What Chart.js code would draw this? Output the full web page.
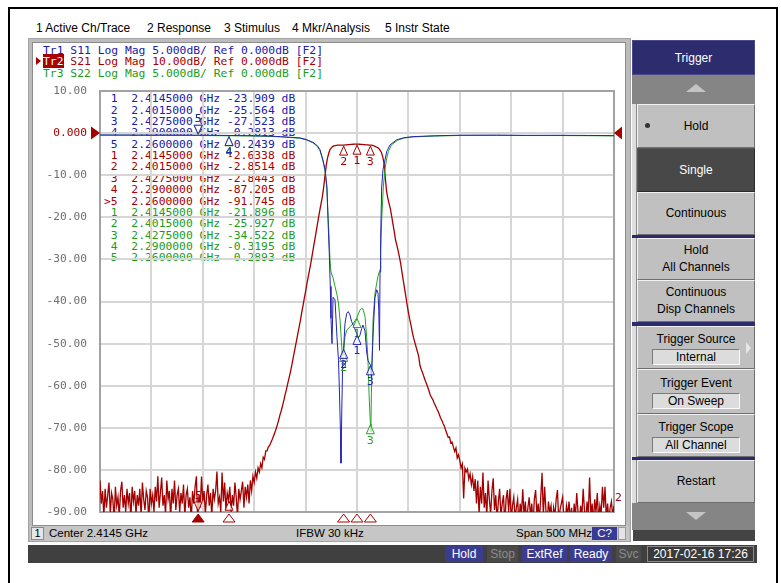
<!DOCTYPE html>
<html><head><meta charset="utf-8">
<script src="https://cdn.jsdelivr.net/npm/chart.js@4.4.0/dist/chart.umd.min.js"></script>
<style>
html,body{margin:0;padding:0;background:#fff;width:781px;height:583px;overflow:hidden;position:relative;font-family:"Liberation Sans",Arial,sans-serif;}
.a{position:absolute;box-sizing:border-box;}
.menu{top:21px;font-size:12px;line-height:14px;color:#000;white-space:nowrap;}
.mono{font-family:"DejaVu Sans Mono",monospace;font-size:11.35px;line-height:11.5px;white-space:pre;}
.btn{position:absolute;box-sizing:border-box;left:637px;width:118px;background:#c0c0c0;border-top:1px solid #f2f2f2;border-left:1px solid #f2f2f2;border-right:1px solid #6e6e6e;border-bottom:1px solid #6e6e6e;display:flex;flex-direction:column;align-items:center;justify-content:center;font-size:12px;line-height:17px;color:#000;text-align:center;}
.val{box-sizing:border-box;width:88px;height:16px;background:#dcdcdc;border-top:1px solid #7a7a7a;border-left:1px solid #7a7a7a;border-right:1px solid #fafafa;border-bottom:1px solid #fafafa;line-height:14px;margin-top:1px;}
.sep{position:absolute;left:632px;width:123px;background:#2a2a6c;}
.st{position:absolute;top:546px;height:16px;line-height:16px;font-size:12px;text-align:center;box-sizing:border-box;}
.info{position:absolute;top:526px;height:15px;line-height:15px;font-size:11.5px;color:#000;white-space:nowrap;}
#c{position:absolute;left:0;top:0;}
</style></head><body>

<!-- outer black frame -->
<div class="a" style="left:8px;top:7px;width:770px;height:580px;border-left:2px solid #000;border-top:2px solid #000;border-right:2px solid #000;"></div>

<!-- menu bar -->
<div class="a menu" style="left:36px">1 Active Ch/Trace</div>
<div class="a menu" style="left:147px">2 Response</div>
<div class="a menu" style="left:224px">3 Stimulus</div>
<div class="a menu" style="left:292px">4 Mkr/Analysis</div>
<div class="a menu" style="left:385px">5 Instr State</div>

<!-- channel window frame -->
<div class="a" style="left:28px;top:38px;width:603px;height:504px;background:#bcbcbc;border:1px solid #a4a4a4;"></div>
<div class="a" style="left:32px;top:42px;width:594px;height:484px;background:#fff;border:1px solid #8c8c8c;"></div>

<!-- trace header -->
<div class="a mono" style="left:43px;top:44.5px;color:#2020aa">Tr1 S11 Log Mag 5.000dB/ Ref 0.000dB [F2]</div>
<div class="a mono" style="left:43px;top:56px;color:#a80000"><span style="background:#a80000;color:#fff">Tr2</span> S21 Log Mag 10.00dB/ Ref 0.000dB [F2]</div>
<div class="a mono" style="left:43px;top:67.5px;color:#1c9c1c">Tr3 S22 Log Mag 5.000dB/ Ref 0.000dB [F2]</div>
<div class="a" style="left:36px;top:57px;width:0;height:0;border-top:4px solid transparent;border-bottom:4px solid transparent;border-left:5px solid #a80000;"></div>

<!-- marker table (filled by script) -->
<div id="mtable" class="a" style="left:104px;top:93.3px;"></div>

<!-- trace end label -->
<div class="a mono" style="left:615px;top:492px;color:#a80000">2</div>

<!-- info bar -->
<div class="a" style="left:30px;top:526px;width:599px;height:15px;background:#c6c6c6;"></div>
<div class="a" style="left:31px;top:527px;width:13px;height:13px;background:#e6e6e6;border:1px solid #8a8a8a;font-size:11px;line-height:11px;text-align:center;">1</div>
<div class="info" style="left:49px">Center 2.4145 GHz</div>
<div class="info" style="left:296px">IFBW 30 kHz</div>
<div class="info" style="left:516px">Span 500 MHz</div>
<div class="a" style="left:592px;top:527px;width:25px;height:13px;background:#3a3a96;color:#fff;font-size:11.5px;line-height:13px;text-align:center;">C?</div>
<div class="a" style="left:618px;top:527px;width:8px;height:13px;background:#e4e4e4;border:1px solid #9a9a9a;"></div>

<!-- status bar -->
<div class="a" style="left:28px;top:545px;width:729px;height:18px;background:#404040;"></div>
<div class="st" style="left:445px;width:38px;background:#3c3c8e;color:#fff">Hold</div>
<div class="st" style="left:487px;width:31px;background:#4a4a4a;color:#8c8c8c">Stop</div>
<div class="st" style="left:522px;width:45px;background:#3c3c8e;color:#fff">ExtRef</div>
<div class="st" style="left:570px;width:42px;background:#3c3c8e;color:#fff">Ready</div>
<div class="st" style="left:616px;width:25px;background:#4a4a4a;color:#8c8c8c">Svc</div>
<div class="st" style="left:647px;width:107px;background:#3a3a3a;color:#fff;border:1px solid #8a8a8a;line-height:14px">2017-02-16 17:26</div>

<!-- right softkey panel -->
<div class="a" style="left:632px;top:40px;width:123px;height:35px;background:#2c2c6e;color:#fff;font-size:12px;line-height:35px;text-align:center;border:1px solid #4a4a8a;">Trigger</div>
<div class="a" style="left:632px;top:75px;width:123px;height:29px;background:#858585;"></div>
<div class="a" style="left:686px;top:84px;width:0;height:0;border-left:10px solid transparent;border-right:10px solid transparent;border-bottom:8px solid #c4c4c4;"></div>
<div class="a" style="left:632px;top:104px;width:5px;height:426px;background:#dedede;border-right:1px solid #8a8a8a;"></div>

<div class="btn" style="top:104px;height:44px;">Hold</div>
<div class="a" style="left:645px;top:123px;width:5px;height:5px;border-radius:50%;background:#333;"></div>
<div class="btn" style="top:148px;height:44px;background:#484848;color:#fff;border-color:#5a5a5a #2a2a2a #2a2a2a #5a5a5a;">Single</div>
<div class="btn" style="top:192px;height:43px;">Continuous</div>
<div class="sep" style="top:235px;height:3px;"></div>
<div class="btn" style="top:238px;height:42px;"><div>Hold</div><div>All Channels</div></div>
<div class="btn" style="top:280px;height:42px;"><div>Continuous</div><div>Disp Channels</div></div>
<div class="sep" style="top:322px;height:4px;"></div>
<div class="btn" style="top:326px;height:43px;"><div>Trigger Source</div><div class="val">Internal</div></div>
<div class="a" style="left:746px;top:342px;width:0;height:0;border-top:6px solid transparent;border-bottom:6px solid transparent;border-left:5px solid #e6e6e6;"></div>
<div class="btn" style="top:369px;height:45px;"><div>Trigger Event</div><div class="val">On Sweep</div></div>
<div class="btn" style="top:414px;height:43px;"><div>Trigger Scope</div><div class="val">All Channel</div></div>
<div class="sep" style="top:457px;height:3px;"></div>
<div class="btn" style="top:460px;height:43px;">Restart</div>
<div class="a" style="left:632px;top:503px;width:123px;height:27px;background:#858585;"></div>
<div class="a" style="left:686px;top:512px;width:0;height:0;border-left:10px solid transparent;border-right:10px solid transparent;border-top:8px solid #c4c4c4;"></div>
<div class="a" style="left:633px;top:530px;width:122px;height:11px;background:#444;"></div>

<canvas id="c" width="781" height="583"></canvas>

<script>
// ---------------- data ----------------
const sweepStartGHz = 2.1645;
const sweepStopGHz = 2.6645;

// S21 (Tr2), 401 sweep points, dB
const s21LowStop = [
-82.5,-88,-85,-91,-84.5,-89,-86,-83,-90.5,-85.5,
-87,-92,-84,-88.5,-86.5,-91,-85,-82.8,-89,-86,
-90,-84.5,-88,-85.5,-92,-84,-87.5,-85,-90.5,-86,
-88.5,-84.5,-91,-83,-87,-89.5,-85,-86.5,-92,-84.5,
-88,-86,-90,-84,-87.5,-81.5,-89,-85.5,-81.8,-88.5,
-86,-90.5,-82.5,-87,-85,-91.5,-84.5,-88,-82.5,-89.5,
-86,-84.5,-90,-85.5,-88,-83.5,-91,-86,-84.5,-89,
-86.5,-92,-85,-88,-84,-81.5,-91.745,-86,-89,-81.6,
-87.5,-85,-90.5,-86,-83.5,-88.5,-85.5,-91,-84.5,-87,
-85,-80.4,-88,-86.5,-90,-80.6,-87.5,-83,-89.5,-85.5,
-87.205,-84,-90,-86,-88.5,-83,-86.5,-91,-84.5,-87,
-85,-82.8,-89,-84,-86.5,-83.5,-88];
const s21Band = [
-82.5,-85,-81.5,-83,-80.5,-82,-79.5,-80.5,-78.5,-79.5,
-77,-77.5,-75.5,-75.5,-74.5,-74.2,-73.5,-72.8,-72,-71.2,
-70.3,-69.3,-68.2,-67,-66,-64.8,-63.6,-62.2,-61,-59.6,
-58.3,-57,-55.5,-54,-52.3,-50.8,-49.2,-47.6,-46,-44.4,
-42.6,-41,-39.2,-37.6,-35.8,-34.2,-32.6,-31,-29.2,-27.4,
-25.6,-23.8,-22,-20.2,-18.4,-16.8,-15.2,-13,-10.4,-7.8,
-6,-4.8,-3.9,-3.5,-3.2,-3.05,-2.95,-2.9,-2.85,-2.85,
-2.86,-2.86,-2.85,-2.85,-2.82,-2.79,-2.75,-2.72,-2.69,-2.67,
-2.65,-2.64,-2.63,-2.63,-2.64,-2.65,-2.67,-2.7,-2.73,-2.76,
-2.79,-2.81,-2.83,-2.84,-2.86,-2.9,-3,-3.15,-3.3,-3.45,
-3.65,-4.1,-4.6,-5.6,-7.1,-10.5,-13.8,-15.5,-16.8,-18,
-19.8,-21.6,-23.4,-25.4,-26.6,-27.9,-29.4,-31,-33,-35,
-36.9,-38.8,-40.8,-42.6,-44.2,-45.6,-47.2,-48.6,-49.7,-50.8,
-51.9,-53,-55.2,-56.1,-56.9,-57.8,-58.7,-59.5,-60.3,-61.2,
-62.2,-62.8,-63.3,-64.1,-64.7,-65.4,-66,-66.8,-67.6,-68.2,
-69,-69.6,-70.6,-71.4,-72.3,-72.2,-73.6,-73.4,-74.6,-75.6,
-74.8,-77.2,-76.4,-77.8,-79.5,-78.6,-86.8,-79.6,-80.5,-79.8,
-82.2,-80.9,-83.5,-81.6,-85,-82.2,-88,-82.5];
const s21HighStop = [
-90.5,-84,-88,-80.6,-89,-85.5,-91,-82.5,-87,-90.5,
-85,-82,-89.5,-86,-92,-87.5,-84.5,-91,-88,-86,
-93,-87,-84.8,-90,-84.5,-92,-88.5,-86.5,-91.5,-89,
-87,-93,-88,-90.5,-84.6,-91,-87.5,-92.5,-89,-86.5,
-91,-88,-93,-87,-84.8,-90.5,-88,-92,-86.5,-80.7,
-91,-84,-89.5,-92.5,-87.5,-90,-88.5,-93.5,-89,-91,
-87,-84.8,-92,-89.5,-88,-86.5,-91.5,-93,-88.5,-90.5,
-87.5,-92,-89,-94,-88,-91,-85.5,-90,-92.5,-88.5,
-91,-84.5,-89.5,-93,-87.5,-90.5,-81.8,-91,-88,-92.5,
-87,-90,-85.5,-92,-88.5,-90.5,-84,-89,-84,-91.5,
-88,-92,-89,-87.5,-91,-88.5];
const s21Values = s21LowStop.concat(s21Band, s21HighStop);

// S11 (Tr1), GHz / dB
const s11Freq = [2.1645,2.2000,2.2300,2.2600,2.2900,2.3100,2.3300,2.3400,2.3500,2.3591,2.3650,2.3717,2.3760,2.3785,2.3814,2.3834,2.3853,2.3863,2.3875,2.3885,2.3892,2.3902,2.3912,2.3931,2.3950,2.3965,2.3975,2.3985,2.3989,2.3997,2.4006,2.4015,2.4028,2.4045,2.4060,2.4077,2.4093,2.4109,2.4126,2.4145,2.4160,2.4174,2.4191,2.4203,2.4223,2.4239,2.4252,2.4265,2.4275,2.4285,2.4295,2.4305,2.4320,2.4337,2.4349,2.4357,2.4364,2.4369,2.4375,2.4385,2.4398,2.4417,2.4434,2.4466,2.4531,2.4600,2.4690,2.4900,2.5150,2.5500,2.5800,2.6100,2.6400,2.6645];
const s11Values = [-0.22,-0.23,-0.24,-0.2439,-0.2813,-0.31,-0.36,-0.42,-0.50,-0.57,-0.75,-1.1,-1.5,-1.96,-3.2,-4.3,-6.4,-10.3,-14.2,-18.2,-22.0,-25.0,-19.5,-19.8,-24.2,-27.0,-31.0,-36.0,-39.2,-33.0,-27.0,-25.564,-22.6,-21.4,-21.2,-21.6,-22.4,-22.8,-23.3,-23.909,-24.3,-24.0,-23.2,-22.8,-23.5,-26.0,-27.0,-27.3,-27.523,-29.0,-26.0,-23.0,-19.5,-18.6,-19.0,-21.0,-25.8,-16.5,-12.5,-6.4,-4.3,-3.2,-2.2,-1.4,-0.8,-0.55,-0.42,-0.32,-0.25,-0.24,-0.27,-0.26,-0.28,-0.30];

// S22 (Tr3), GHz / dB
const s22Freq = [2.1645,2.2000,2.2300,2.2600,2.2900,2.3100,2.3300,2.3400,2.3500,2.3591,2.3650,2.3717,2.3760,2.3785,2.3814,2.3834,2.3850,2.3866,2.3882,2.3892,2.3912,2.3931,2.3950,2.3965,2.3980,2.3997,2.4008,2.4015,2.4028,2.4045,2.4077,2.4109,2.4145,2.4174,2.4191,2.4203,2.4223,2.4239,2.4252,2.4262,2.4275,2.4280,2.4285,2.4292,2.4301,2.4320,2.4337,2.4349,2.4369,2.4375,2.4385,2.4401,2.4417,2.4434,2.4450,2.4480,2.4540,2.4600,2.4690,2.4900,2.5150,2.5500,2.5800,2.6100,2.6400,2.6645];
const s22Values = [-0.25,-0.26,-0.27,-0.2893,-0.3195,-0.34,-0.39,-0.45,-0.53,-0.62,-0.8,-1.15,-1.6,-2.1,-3.3,-4.5,-6.4,-10.3,-15.0,-16.5,-17.2,-18.2,-19.2,-20.2,-22.2,-25.4,-27.5,-25.927,-24.2,-23.4,-23.0,-22.6,-21.896,-21.0,-20.8,-20.9,-21.8,-24.2,-27.0,-30.9,-34.522,-35.5,-31.0,-27.0,-22.2,-19.0,-17.8,-17.0,-16.2,-14.2,-10.3,-6.4,-4.3,-3.0,-2.2,-1.4,-0.85,-0.6,-0.45,-0.35,-0.28,-0.27,-0.29,-0.29,-0.31,-0.33];

// markers 1..5
const markerFreqs = [2.4145, 2.4015, 2.4275, 2.2900, 2.2600];
const s11Markers = [-23.909, -25.564, -27.523, -0.2813, -0.2439];
const s21Markers = [-2.6338, -2.8514, -2.8443, -87.205, -91.745];
const s22Markers = [-21.896, -25.927, -34.522, -0.3195, -0.2893];

// axes: Tr2 10 dB/div, Tr1/Tr3 5 dB/div, ref 0 dB one division below top
const s21AxisMin = -90, s21AxisMax = 10, s21Step = 10;
const s11AxisMin = -45, s11AxisMax = 5;
const xDivisions = 10;

// ---------------- colors ----------------
const BLUE = '#2424b4', RED = '#a40000', GREEN = '#22a422';
const BLUE_T = '#2020aa', RED_T = '#a80000', GREEN_T = '#1c9c1c';

// ---------------- marker table ----------------
function fmtVal(v){ return (Math.abs(v) >= 10 ? v.toFixed(3) : v.toFixed(4)).padStart(7); }
(function buildTable(){
  const tbl = document.getElementById('mtable');
  const traces = [[s11Markers, BLUE_T, false], [s21Markers, RED_T, true], [s22Markers, GREEN_T, false]];
  traces.forEach(([vals, col, active]) => {
    vals.forEach((v, k) => {
      const d = document.createElement('div');
      d.className = 'mono';
      d.style.color = col;
      d.style.lineHeight = '11.36px';
      d.style.height = '11.36px';
      const pre = (active && k === 4) ? '>' : ' ';
      d.textContent = pre + (k + 1) + '  ' + markerFreqs[k].toFixed(7) + ' GHz ' + fmtVal(v) + ' dB';
      tbl.appendChild(d);
    });
  });
})();

// ---------------- chart ----------------
const N = s21Values.length;
const s21Freq = s21Values.map((_, i) => sweepStartGHz + i * (sweepStopGHz - sweepStartGHz) / (N - 1));
const xGrid = Array.from({length: xDivisions + 1}, (_, k) => sweepStartGHz + k * (sweepStopGHz - sweepStartGHz) / xDivisions);
const toXY = (fs, vs) => fs.map((f, i) => ({x: f, y: vs[i]}));

function triangle(ctx, x, tipY, dir, hw, h, fill, stroke) {
  ctx.beginPath();
  ctx.moveTo(x, tipY);
  ctx.lineTo(x - hw, tipY + dir * h);
  ctx.lineTo(x + hw, tipY + dir * h);
  ctx.closePath();
  if (fill) { ctx.fillStyle = fill; ctx.fill(); }
  if (stroke) { ctx.strokeStyle = stroke; ctx.lineWidth = 1; ctx.stroke(); }
}

const vnaPlugin = {
  id: 'vna',
  beforeDatasetsDraw(chart) {
    const {ctx, chartArea: a} = chart;
    ctx.save();
    ctx.strokeStyle = '#a2a2a2';
    ctx.lineWidth = 2;
    ctx.strokeRect(a.left, a.top, a.right - a.left, a.bottom - a.top);
    ctx.restore();
  },
  afterDatasetsDraw(chart) {
    const {ctx, chartArea: a, scales} = chart;
    const xs = scales.x, y1 = scales.y, y2 = scales.y2;
    ctx.save();
    ctx.beginPath();
    ctx.rect(a.left, a.top, a.right - a.left, a.bottom - a.top);
    ctx.clip();
    ctx.font = '11px "DejaVu Sans"';
    ctx.textAlign = 'center';
    ctx.textBaseline = 'middle';
    const sets = [[s21Markers, y1, RED], [s22Markers, y2, GREEN], [s11Markers, y2, BLUE]];
    sets.forEach(([vals, ys, col]) => {
      vals.forEach((v, k) => {
        const x = xs.getPixelForValue(markerFreqs[k]);
        let y = Math.min(Math.max(ys.getPixelForValue(v), a.top), a.bottom);
        const above = (k === 4);
        if (above) {
          triangle(ctx, x, y - 1, -1, 4, 9, 'rgba(255,255,255,0.7)', col);
          ctx.fillStyle = col; ctx.fillText(String(k + 1), x, y - 16);
        } else {
          triangle(ctx, x, y + 1, 1, 4, 9, 'rgba(255,255,255,0.7)', col);
          ctx.fillStyle = col; ctx.fillText(String(k + 1), x, y + 17);
        }
      });
    });
    ctx.restore();

    // stimulus marker triangles under the grid
    ctx.save();
    markerFreqs.forEach((f, k) => {
      const x = xs.getPixelForValue(f);
      triangle(ctx, x, a.bottom + 2, 1, 6, 8, k === 4 ? RED : '#fff', RED);
    });
    // reference level arrows
    const yr = y1.getPixelForValue(0);
    ctx.fillStyle = RED;
    ctx.beginPath(); ctx.moveTo(91, yr - 6.5); ctx.lineTo(91, yr + 6.5); ctx.lineTo(a.left, yr); ctx.closePath(); ctx.fill();
    ctx.beginPath(); ctx.moveTo(a.right + 8, yr - 6.5); ctx.lineTo(a.right + 8, yr + 6.5); ctx.lineTo(a.right, yr); ctx.closePath(); ctx.fill();
    ctx.restore();
  }
};

const gridOpts = {color: '#d6d6d6', lineWidth: 2, drawTicks: false};

new Chart(document.getElementById('c'), {
  type: 'line',
  data: {
    datasets: [
      {label: 'S11', data: toXY(s11Freq, s11Values), yAxisID: 'y2', borderColor: BLUE, order: 0},
      {label: 'S22', data: toXY(s22Freq, s22Values), yAxisID: 'y2', borderColor: GREEN, order: 1},
      {label: 'S21', data: toXY(s21Freq, s21Values), yAxisID: 'y', borderColor: RED, borderWidth: 1.3, order: 2}
    ]
  },
  options: {
    responsive: false,
    animation: false,
    devicePixelRatio: 1,
    elements: {point: {radius: 0}, line: {borderWidth: 1, tension: 0}},
    plugins: {legend: {display: false}, tooltip: {enabled: false}},
    layout: {padding: {left: 40, right: 167, top: 91, bottom: 71}},
    scales: {
      x: {
        type: 'linear', min: sweepStartGHz, max: sweepStopGHz,
        afterBuildTicks: s => { s.ticks = xGrid.map(v => ({value: v})); },
        afterFit: s => { s.height = 0; },
        ticks: {display: false},
        grid: gridOpts,
        border: {display: false}
      },
      y: {
        position: 'left', min: s21AxisMin, max: s21AxisMax,
        afterFit: s => { s.width = 60; },
        ticks: {
          stepSize: s21Step, padding: 13,
          callback: v => (v === 0 ? '0.000' : Number(v).toFixed(2)),
          color: c => (c.tick && c.tick.value === 0 ? RED_T : '#707070'),
          font: {family: 'DejaVu Sans Mono', size: 11.2}
        },
        grid: gridOpts,
        border: {display: false}
      },
      y2: {position: 'right', min: s11AxisMin, max: s11AxisMax, display: false}
    }
  },
  plugins: [vnaPlugin]
});
</script>
</body></html>
